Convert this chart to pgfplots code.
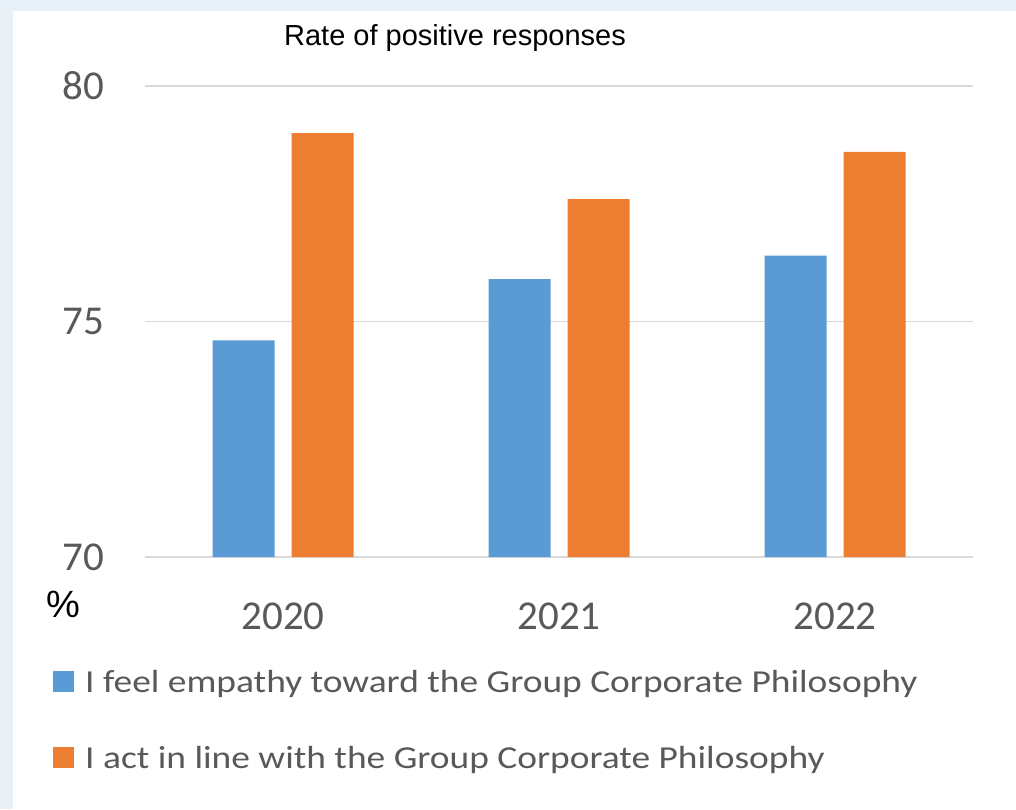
\documentclass[border=0pt]{standalone}
\usepackage{pgfplots}
\pgfplotsset{compat=1.18}
\usepackage{fontspec}
\setmainfont{Carlito}
\newfontfamily\calw[FakeStretch=1.17]{Carlito}
\newfontfamily\arial{Liberation Sans}
\definecolor{bblue}{HTML}{5B9BD5}
\definecolor{borange}{HTML}{ED7D31}
\definecolor{bgc}{HTML}{E8F0F8}
\definecolor{gridc}{HTML}{D9D9D9}
\definecolor{txt}{HTML}{595959}
\begin{document}
\begin{tikzpicture}[x=1pt,y=1pt]
\useasboundingbox (0,0) rectangle (1016,809);
\fill[bgc] (0,0) rectangle (1016,809);
\fill[white] (13,0) rectangle (1016,798);
\node[font=\arial\fontsize{29}{33}\selectfont, anchor=center] at (455,771) {Rate of positive responses};
\node[font=\arial\fontsize{38}{42}\selectfont, anchor=center] at (63,205) {\%};
\begin{axis}[
  at={(145pt,252pt)}, anchor=south west, scale only axis,
  width=828pt, height=471pt,
  ybar=17pt, bar width=62pt,
  xmin=-0.5, xmax=2.5, ymin=70, ymax=80,
  xtick={0,1,2}, xticklabels={2020,2021,2022},
  ytick={70,75,80},
  axis line style={draw=none}, tick style={draw=none},
  ymajorgrids, grid style={gridc, line width=1.5pt},
  tick label style={font=\fontsize{41}{45}\selectfont, text=txt, inner sep=0pt},
  /pgf/number format/assume math mode=true,
  yticklabel style={xshift=-41pt},
  xticklabel style={yshift=-41pt},
  legend columns=1,
  legend cell align=left,
  legend style={at={(-0.1111,-0.2314)}, anchor=north west, draw=none, fill=none,
    inner sep=0pt, row sep=45pt, column sep=11pt,
    nodes={inner sep=0pt, font=\calw\fontsize{32}{36}\selectfont, text=txt, text height=26pt, text depth=5pt}},
  legend image code/.code={\fill[#1] (0pt,-10.5pt) rectangle (21pt,10.5pt);},
]
\addplot[fill=bblue, draw=none] coordinates {(0,74.6) (1,75.9) (2,76.4)};
\addplot[fill=borange, draw=none] coordinates {(0,79.0) (1,77.6) (2,78.6)};
\legend{I feel empathy toward the Group Corporate Philosophy, I act in line with the Group Corporate Philosophy}
\end{axis}
\end{tikzpicture}
\end{document}
